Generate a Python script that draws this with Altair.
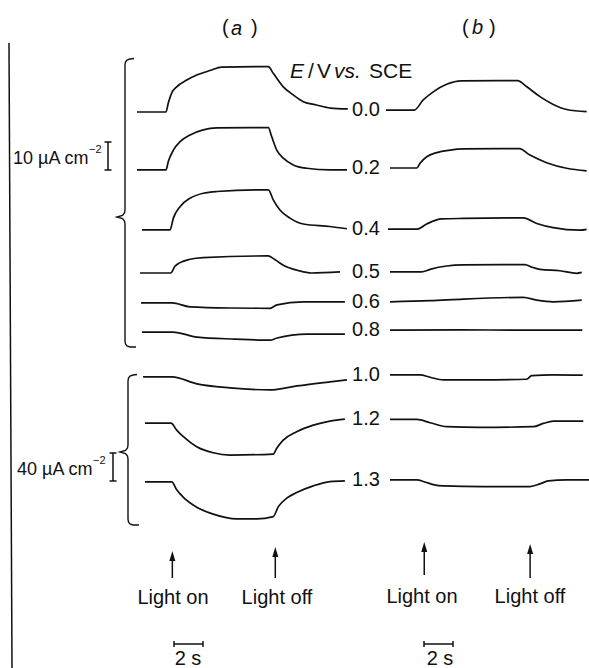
import altair as alt
import pandas as pd

# ---------------- data ----------------
potentials = ["0.0", "0.2", "0.4", "0.5", "0.6", "0.8", "1.0", "1.2", "1.3"]
# traces 0.0-0.8 use the 10 uA cm-2 bar, 1.0-1.3 the 40 uA cm-2 bar
scale_factor = [1, 1, 1, 1, 1, 1, 4, 4, 4]
# dark-current baselines (stacking offsets, uA cm-2 on the 10 uA scale)
offset_a = [40.0, 60.7, 82.1, 97.5, 108.2, 118.6, 134.6, 151.1, 172.1]
offset_b = [39.3, 60.0, 81.8, 97.1, 107.8, 117.9, 133.9, 149.8, 171.4]

# panel (a): time (s, from light on) and photocurrent (uA cm-2)
time_a = [
    [-2.14, -0.14, 0.02, 0.26, 0.6, 1.29, 1.98, 2.9, 3.7, 6.92, 7.26, 7.95, 8.64, 9.33, 10.25, 11.2, 12.4],
    [-2.14, -0.14, 0.02, 0.37, 0.83, 1.52, 2.43, 3.36, 6.92, 7.15, 7.5, 7.95, 8.64, 9.56, 11.17, 12.34],
    [-1.8, 0.14, 0.37, 0.83, 1.52, 2.43, 3.36, 6.92, 7.26, 7.72, 8.41, 9.33, 11.17, 12.34],
    [-1.93, 0.19, 0.48, 0.83, 1.52, 2.43, 6.9, 7.36, 8.05, 8.97, 9.89, 11.86],
    [-1.86, 0.28, 1.52, 4.28, 7.03, 7.52, 9.31, 12.2],
    [-1.79, 0.34, 2.0, 4.62, 7.03, 7.52, 9.59, 12.2],
    [-1.72, 0.28, 2.0, 4.28, 7.03, 8.9, 11.17, 12.34],
    [-1.59, 0.21, 0.6, 1.06, 1.98, 3.12, 4.28, 7.26, 7.49, 7.95, 8.87, 10.02, 11.17, 12.2],
    [-1.59, 0.26, 0.6, 1.06, 1.98, 3.12, 4.74, 6.12, 7.26, 7.61, 8.19, 8.87, 10.02, 11.17, 12.2],
]
current_a = [
    [0, 0, 3.2, 6.8, 9.0, 11.4, 13.2, 14.8, 16.0, 16.2, 13.8, 9.0, 6.1, 3.7, 2.5, 1.4, 1.1],
    [0, 0, 3.0, 7.1, 10.1, 12.5, 14.3, 15.0, 15.1, 11.9, 7.1, 4.2, 1.8, 0.6, 0, 0],
    [0, 0, 4.2, 8.3, 11.3, 13.1, 13.7, 14.3, 10.7, 7.1, 4.2, 2.1, 1.2, 0.4],
    [0, 0, 2.4, 3.7, 4.9, 5.5, 6.1, 4.8, 2.5, 0.9, 0, 0.4],
    [0, 0, -1.4, -1.8, -1.9, -0.7, 0.4, 0.4],
    [0, 0, -1.8, -2.5, -2.9, -2.1, -0.7, -0.7],
    [0, 0, -10, -15.7, -18.6, -12.9, -7.1, -4.3],
    [0, 0, -10, -19.5, -33.8, -42.4, -45.7, -44.3, -36.2, -24.3, -12.4, -2.9, 2.9, 5.7],
    [0, 0, -11.4, -22.1, -36.1, -46.1, -52.9, -52.9, -49.6, -35.3, -23.3, -15.3, -5.7, 0.4, 1.4],
]
# panel (b)
time_b = [
    [-2.14, -0.19, 0.43, 1.12, 2.04, 3.08, 6.94, 7.57, 8.48, 9.4, 10.32, 11.7],
    [-1.86, -0.02, 0.21, 0.67, 1.36, 2.28, 3.2, 7.06, 7.79, 8.94, 10.32, 11.7],
    [-2.0, 0.02, 0.67, 1.7, 3.2, 7.33, 8.26, 9.4, 11.24, 11.7],
    [-1.86, 0.32, 0.9, 2.04, 3.2, 7.45, 7.91, 8.48, 9.86, 11.01, 11.36],
    [-1.86, 0.9, 3.2, 7.33, 8.26, 9.4, 11.36],
    [-1.86, 3.0, 7.0, 11.4],
    [-1.86, 0.21, 0.9, 1.82, 4.34, 7.56, 7.91, 9.4, 11.43],
    [-1.86, -0.02, 0.9, 2.04, 4.34, 8.03, 8.71, 9.4, 11.47],
    [-1.86, -0.02, 0.55, 1.13, 1.82, 4.57, 7.79, 8.48, 9.06, 10.32, 11.86],
]
current_b = [
    [0, 0, 3.6, 6.5, 9.2, 10.4, 10.5, 8.3, 4.8, 2.0, 0.2, -0.6],
    [0, 0, 1.7, 4.0, 5.5, 6.4, 6.8, 6.9, 4.6, 1.9, -0.1, -1.0],
    [0, 0, 1.8, 3.6, 3.8, 4.0, 2.0, 0.5, -0.4, -0.1],
    [0, 0, 0.9, 2.1, 2.5, 2.6, 1.7, 0.9, 0.4, -0.5, -0.2],
    [0, 0.4, 1.0, 1.6, 0.6, 0, 0.6],
    [0, 0.1, 0.0, 0.0],
    [0, 0, -3.3, -7.1, -7.1, -6.2, -1.0, 0, -0.4],
    [0, 0, -4.7, -10.4, -11.4, -10.4, -5.7, -2.4, -2.4],
    [0, 0, -2.9, -6.7, -8.6, -9.5, -9.5, -5.7, -1.4, 0, 0],
]
light_a = [0.3, 7.4]   # light on / light off (s)
light_b = [0.5, 7.8]

# ---------------- layout ----------------
W, H = 589, 668
PX_PER_S = 14.5
PX_PER_UA = 2.8
X0_A, X0_B = 168, 417
B_SHIFT = (X0_B - X0_A) / PX_PER_S
INK = "#111111"
FONT = "Liberation Sans, Arial, Helvetica, sans-serif"


def X(px):
    return (px - X0_A) / PX_PER_S


def Y(py):
    return -py / PX_PER_UA


xs = alt.Scale(domain=[X(0), X(W)], nice=False, zero=False)
ys = alt.Scale(domain=[Y(H), Y(0)], nice=False, zero=False)


def enc_xy(**extra):
    return dict(x=alt.X("x:Q", scale=xs, axis=None),
                y=alt.Y("y:Q", scale=ys, axis=None), **extra)


# traces
rows = []
for panel, times, currents, offs, shift in (
    ("a", time_a, current_a, offset_a, 0.0),
    ("b", time_b, current_b, offset_b, B_SHIFT),
):
    for i, pot in enumerate(potentials):
        for k, (t, j) in enumerate(zip(times[i], currents[i])):
            rows.append({"id": panel + pot, "o": k, "x": t + shift,
                         "y": -offs[i] + j / scale_factor[i]})
traces = alt.Chart(pd.DataFrame(rows)).mark_line(
    interpolate="monotone", color=INK, strokeWidth=1.7
).encode(**enc_xy(detail="id:N", order="o:Q"))

# straight rules (frame line, scale bars, arrow stems)
r = []


def seg(x1, y1, x2, y2):
    r.append({"x": x1, "y": y1, "x2": x2, "y2": y2})


seg(X(9), Y(43), X(12), Y(H))
# 10 uA cm-2 bar
bx, top = X(108), Y(142)
seg(bx, top, bx, top - 10)
seg(X(104.5), top, X(111.5), top)
seg(X(104.5), top - 10, X(111.5), top - 10)
# 40 uA cm-2 bar (40 / 4 on the display scale)
bx, top = X(113), Y(453)
seg(bx, top, bx, top - 40 / 4)
seg(X(109.5), top, X(116.5), top)
seg(X(109.5), top - 10, X(116.5), top - 10)
# 2 s bars
for start in (X(174), X(424)):
    yb = Y(644)
    seg(start, yb, start + 2, yb)
    for e in (start, start + 2):
        seg(e, Y(641), e, Y(647))
# arrows
arrow_tips = [(light_a[0], 551, 578), (light_a[1], 547, 578),
              (light_b[0] + B_SHIFT, 542, 575), (light_b[1] + B_SHIFT, 544, 578)]
for ax_, tip, bot in arrow_tips:
    seg(ax_, Y(tip + 6), ax_, Y(bot))
rules = alt.Chart(pd.DataFrame(r)).mark_rule(color=INK, strokeWidth=1.5).encode(
    **enc_xy(x2="x2:Q", y2="y2:Q"))

heads = alt.Chart(pd.DataFrame(
    [{"x": a, "y": Y(t + 5)} for a, t, _ in arrow_tips])).mark_point(
    shape="M0,-1L0.6,1L-0.6,1Z", filled=True, size=100, color=INK, opacity=1,
    strokeWidth=0).encode(**enc_xy())

# braces
def brace(name, x, top, cy, cx, bottom):
    pts = [(x + 9, top - 1.5), (x + 5, top - 1), (x + 2, top), (x + 0.5, top + 2), (x, top + 5),
           (x, cy - 7), (x - 0.5, cy - 4), (x - 2.5, cy - 1.5), (cx, cy), (x - 2.5, cy + 1.5),
           (x - 0.5, cy + 4), (x, cy + 7), (x, bottom - 5), (x + 0.5, bottom - 2),
           (x + 2, bottom), (x + 5, bottom + 1), (x + 11, bottom + 1)]
    return [{"id": name, "o": k, "x": X(px), "y": Y(py)} for k, (px, py) in enumerate(pts)]


bdf = pd.DataFrame(brace("u", 125, 60, 217, 117, 346) + brace("l", 128, 376, 452, 120, 524))
braces = alt.Chart(bdf).mark_line(color=INK, strokeWidth=1.4).encode(
    **enc_xy(detail="id:N", order="o:Q"))


# texts
def texts(items, size, align="left", italic=False):
    df = pd.DataFrame([{"x": X(px), "y": Y(py), "t": s} for s, px, py in items])
    return alt.Chart(df).mark_text(
        align=align, baseline="middle", font=FONT, fontSize=size, color=INK,
        fontStyle="italic" if italic else "normal"
    ).encode(**enc_xy(text="t:N"))


label_x = 366
layers = [
    traces, rules, heads, braces,
    texts([("(", 222, 28), (")", 251, 28), ("(", 462, 28), (")", 489, 28)], 20),
    texts([("a", 231, 29), ("b", 472, 28)], 20, italic=True),
    texts([("E", 290, 72), ("vs.", 334, 72)], 21, italic=True),
    texts([("/", 308, 72), ("V", 317, 72), ("SCE", 369, 72)], 21),
    texts([("10 \u00b5A cm", 13, 159), ("40 \u00b5A cm", 17, 470)], 18),
    texts([("\u22122", 89, 150), ("\u22122", 93, 461)], 11),
    texts([(p, label_x, -Y(0) + offset_b[i] * PX_PER_UA) for i, p in enumerate(potentials)],
          20, align="center"),
    texts([("Light on", 173, 598), ("Light off", 277, 598),
           ("Light on", 422, 597), ("Light off", 530, 597),
           ("2 s", 188, 659), ("2 s", 440, 659)], 20, align="center"),
]

chart = alt.layer(*layers).properties(
    width=W, height=H, padding=0,
    autosize=alt.AutoSizeParams(type="none"),
    background="white",
).configure_view(stroke=None)

chart.save("out.html", embed_options={"renderer": "svg", "actions": False})
